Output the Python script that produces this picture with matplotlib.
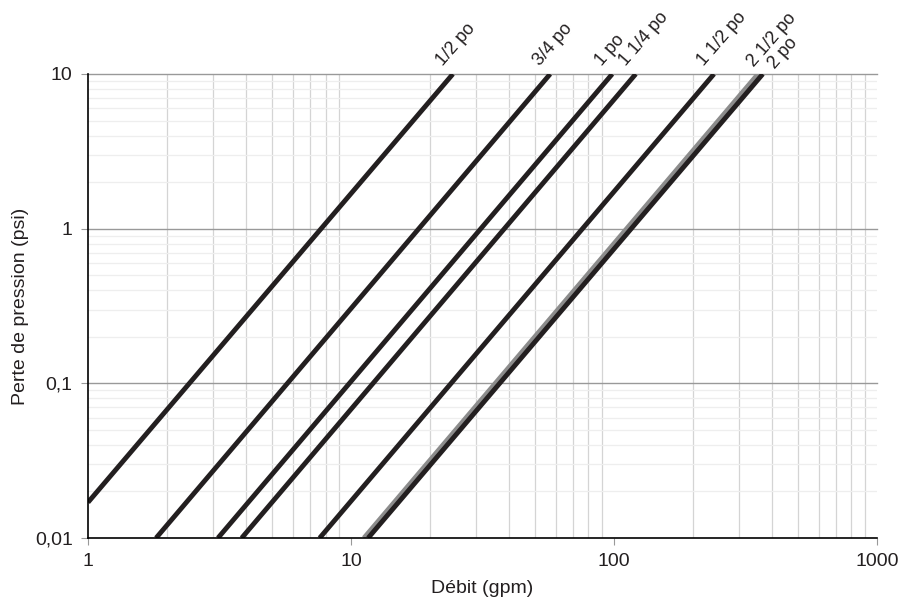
import matplotlib
matplotlib.use("Agg")
import matplotlib.pyplot as plt
from matplotlib.ticker import FixedLocator, NullFormatter

plt.rcParams['font.family'] = ['Liberation Sans', 'DejaVu Sans']

# Data: each pipe size line defined by two points (flow gpm, pressure loss psi)
sizes = ["1/2 po", "3/4 po", "1 po", "1 1/4 po", "1 1/2 po", "2 1/2 po", "2 po"]
flow_start = [1.0, 1.815, 3.12, 3.84, 7.6, 11.2, 11.62]
loss_start = [0.017, 0.01, 0.01, 0.01, 0.01, 0.01, 0.01]
flow_end = [24.4, 57.2, 98.5, 121, 240, 353, 368]
loss_end = [10, 10, 10, 10, 10, 10, 10]
line_colors = ["#231f20", "#231f20", "#231f20", "#231f20", "#231f20", "#8c8c8c", "#231f20"]

x_ticks = [1, 10, 100, 1000]
x_ticklabels = ["1", "10", "100", "1000"]
y_ticks = [0.01, 0.1, 1, 10]
y_ticklabels = ["0,01", "0,1", "1", "10"]

# label offsets in points (layout only)
label_offsets = [(-5, 3.5), (-5, 3.5), (-5, 3.5), (-5, 3.5), (-5, 3.5), (-1, 3), (11, 1.5)]

fig = plt.figure(figsize=(9, 6.03), dpi=100)
ax = fig.add_axes([0.0978, 0.1078, 0.9744 - 0.0978, 0.8773 - 0.1078])
ax.set_xscale('log')
ax.set_yscale('log')
ax.set_xlim(1, 1000)
ax.set_ylim(0.01, 10)

for dec in [1, 10, 100]:
    for m in range(2, 10):
        ax.axvline(dec * m, color="#d4d4d4", lw=0.9, zorder=0)
for dec in [0.01, 0.1, 1]:
    for m in range(2, 10):
        ax.axhline(dec * m, color="#eeeeee", lw=0.9, zorder=0)
for yv in [0.1, 1, 10]:
    ax.axhline(yv, color="#999999", lw=1.0, zorder=0.5, clip_on=False)

for i, name in enumerate(sizes):
    z = 2 if line_colors[i] != "#8c8c8c" else 1.5
    ax.plot([flow_start[i], flow_end[i]], [loss_start[i], loss_end[i]],
            color=line_colors[i], lw=3.5, solid_capstyle='butt', zorder=z)
    ax.annotate(name, xy=(flow_end[i], loss_end[i]), xytext=label_offsets[i],
                textcoords='offset points', rotation=49, rotation_mode='anchor',
                ha='left', va='bottom', fontsize=13, color="#231f20",
                annotation_clip=False)

ax.xaxis.set_major_locator(FixedLocator(x_ticks))
ax.set_xticklabels(x_ticklabels)
ax.yaxis.set_major_locator(FixedLocator(y_ticks))
ax.set_yticklabels(y_ticklabels)
ax.xaxis.set_minor_locator(FixedLocator([]))
ax.yaxis.set_minor_locator(FixedLocator([]))
ax.xaxis.set_minor_formatter(NullFormatter())
ax.yaxis.set_minor_formatter(NullFormatter())

ax.tick_params(axis='both', which='major', length=5, width=0.8, color="#999999",
               labelsize=14, labelcolor="#231f20", pad=6)

for s in ['top', 'right']:
    ax.spines[s].set_visible(False)
for s in ['left', 'bottom']:
    ax.spines[s].set_color("#000000")
    ax.spines[s].set_linewidth(1.2)

ax.set_xlabel("Débit (gpm)", fontsize=14, color="#231f20", labelpad=7)
ax.set_ylabel("Perte de pression (psi)", fontsize=14, color="#231f20", labelpad=4)

fig.savefig("out.png", dpi=100)
